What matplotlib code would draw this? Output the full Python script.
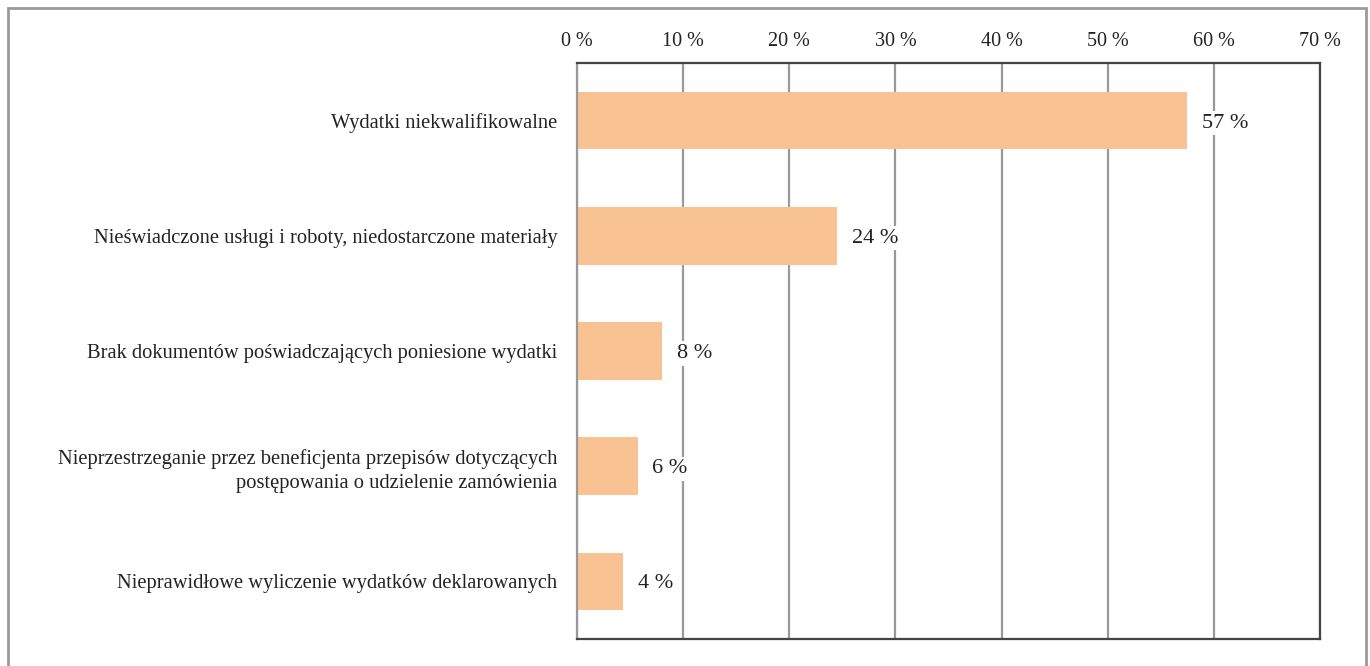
import matplotlib.pyplot as plt
import matplotlib.patches as patches

categories = ['Wydatki niekwalifikowalne',
              'Nieświadczone usługi i roboty, niedostarczone materiały',
              'Brak dokumentów poświadczających poniesione wydatki',
              'Nieprzestrzeganie przez beneficjenta przepisów dotyczących\npostępowania o udzielenie zamówienia',
              'Nieprawidłowe wyliczenie wydatków deklarowanych']
values = [57.5, 24.5, 8.0, 5.7, 4.3]
value_labels = ['57 %', '24 %', '8 %', '6 %', '4 %']
ticks = [0, 10, 20, 30, 40, 50, 60, 70]
tick_labels = ['%d %%' % t for t in ticks]

plt.rcParams['font.family'] = ['Liberation Serif', 'DejaVu Serif']

fig = plt.figure(figsize=(13.7, 6.66), dpi=100)
ax = fig.add_axes([577 / 1370, 1 - 639 / 666, (1320 - 577) / 1370, (639 - 63) / 666])

# outer frame
frame = patches.Rectangle((8 / 1370, -0.01), (1366 - 8) / 1370, 1 - 8 / 666 + 0.01,
                          transform=fig.transFigure, fill=False, edgecolor='#9a9a9a', linewidth=2)
fig.patches.append(frame)

y = list(range(len(categories)))
ax.barh(y, values, height=0.5, color='#F8C293', zorder=2)
ax.set_xlim(0, 70)
ax.set_ylim(len(categories) - 0.5, -0.5)

ax.set_xticks(ticks)
ax.set_xticklabels(tick_labels, fontsize=14.5, color='#222222')
ax.xaxis.tick_top()
ax.tick_params(axis='x', length=0, pad=9)
ax.set_yticks(y)
ax.set_yticklabels(categories, fontsize=14.8, color='#222222', linespacing=1.35)
ax.tick_params(axis='y', length=0, pad=14)

ax.grid(axis='x', color='#999999', linewidth=1.6, zorder=1)
ax.set_axisbelow(True)

for s in ['top', 'bottom', 'right']:
    ax.spines[s].set_color('#444444')
    ax.spines[s].set_linewidth(1.6)
ax.spines['left'].set_color('#999999')
ax.spines['left'].set_linewidth(1.6)

for yi, v, lab in zip(y, values, value_labels):
    ax.text(v + 1.4, yi, lab, va='center_baseline', ha='left', fontsize=16, color='#222222', zorder=3,
            bbox=dict(facecolor='white', edgecolor='none', pad=2))

plt.savefig('out.png', dpi=100)
plt.close()
